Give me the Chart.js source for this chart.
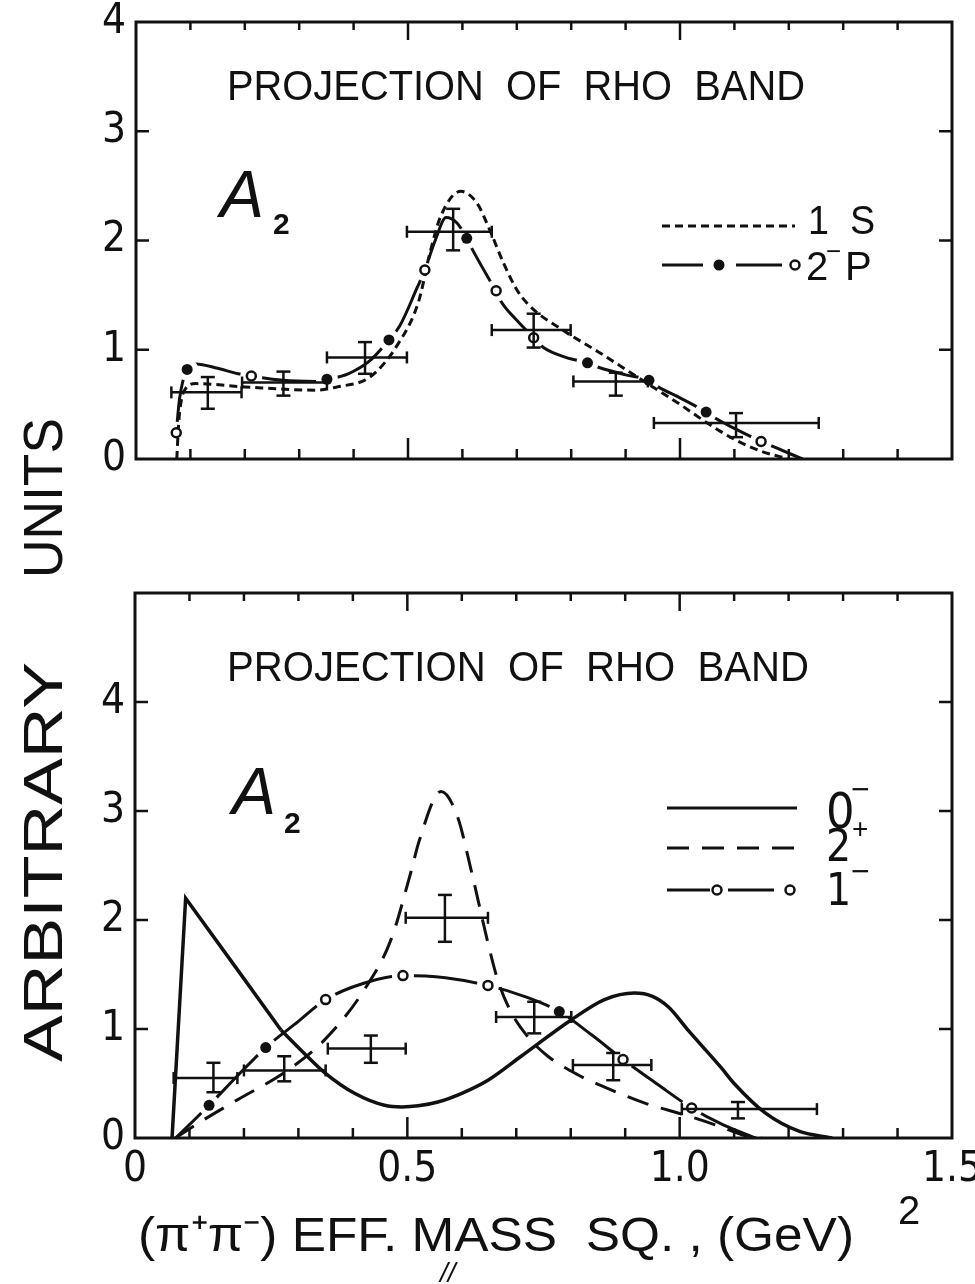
<!DOCTYPE html>
<html lang="en">
<head>
<meta charset="utf-8">
<title>A2 - projection of rho band</title>
<script src="https://cdn.jsdelivr.net/npm/chart.js@4.4.0/dist/chart.umd.min.js"></script>
<style>
  body { margin: 0; background: #fff; }
  #wrap { position: relative; width: 975px; height: 1284px; background: #fff; }
  #wrap canvas { position: absolute; left: 0; top: 0; }
</style>
</head>
<body>
<div id="wrap">
  <canvas id="topChart" width="975" height="1284"></canvas>
  <canvas id="bottomChart" width="975" height="1284"></canvas>
</div>

<script>
    // ---------- top panel: 1 S and 2-P fits ----------
    const top1S = [[0.075, 0.0], [0.077, 0.2], [0.08, 0.42], [0.092, 0.65], [0.11, 0.69], [0.2, 0.66],
        [0.33, 0.63], [0.37, 0.66], [0.43, 0.75], [0.48, 1.04], [0.52, 1.45], [0.54, 1.88], [0.56, 2.22],
        [0.597, 2.45], [0.627, 2.34], [0.65, 2.1], [0.675, 1.8], [0.70, 1.55], [0.72, 1.42], [0.745, 1.31],
        [0.775, 1.21], [0.80, 1.13], [0.85, 0.98], [0.90, 0.82], [0.95, 0.66], [1.0, 0.5], [1.05, 0.33],
        [1.10, 0.18], [1.15, 0.07], [1.2, 0.0]];

    const top2P = [[0.074, 0.24], [0.08, 0.55], [0.094, 0.82], [0.11, 0.87], [0.15, 0.83], [0.188, 0.78],
        [0.212, 0.76], [0.27, 0.72], [0.33, 0.71], [0.351, 0.73], [0.39, 0.78], [0.43, 0.9], [0.465, 1.09],
        [0.485, 1.22], [0.517, 1.57], [0.531, 1.73], [0.55, 2.0], [0.57, 2.21], [0.59, 2.16], [0.608, 2.02],
        [0.617, 1.93], [0.651, 1.63], [0.662, 1.54], [0.67, 1.45], [0.70, 1.27], [0.731, 1.11], [0.749, 1.02],
        [0.79, 0.93], [0.83, 0.88], [0.85, 0.84], [0.90, 0.77], [0.943, 0.72], [0.96, 0.66], [1.0, 0.56],
        [1.048, 0.43], [1.066, 0.37], [1.1, 0.28], [1.149, 0.16], [1.173, 0.11], [1.225, 0.0]];
    const top2PDots = [[0.094, 0.82], [0.351, 0.73], [0.465, 1.09], [0.608, 2.02], [0.83, 0.88], [0.943, 0.72], [1.048, 0.43]];
    const top2PRings = [[0.074, 0.24], [0.212, 0.76], [0.531, 1.73], [0.662, 1.54], [0.731, 1.11], [1.149, 0.16]];

    // measured points (bins with errors)
    const topErrX = [0.132, 0.271, 0.421, 0.583, 0.731, 0.882, 1.103];
    const topErrXLo = [0.065, 0.195, 0.351, 0.498, 0.654, 0.804, 0.952];
    const topErrXHi = [0.194, 0.351, 0.498, 0.654, 0.799, 0.941, 1.255];
    const topErrY = [0.61, 0.70, 0.93, 2.08, 1.18, 0.71, 0.33];
    const topErrYLo = [0.46, 0.58, 0.78, 1.91, 1.02, 0.58, 0.20];
    const topErrYHi = [0.75, 0.80, 1.07, 2.29, 1.33, 0.79, 0.42];

    // ---------- bottom panel: 0-, 2+, 1- ----------
    const bot0Spike = [[0.068, 0.0], [0.093, 2.2], [0.18, 1.6], [0.268, 0.99]];
    const bot0Rest = [[0.268, 0.99], [0.31, 0.78], [0.348, 0.60], [0.403, 0.41], [0.458, 0.30], [0.49, 0.285],
        [0.52, 0.295], [0.556, 0.33], [0.60, 0.41], [0.648, 0.53], [0.709, 0.75], [0.80, 1.08], [0.862, 1.27],
        [0.917, 1.33], [0.95, 1.30], [0.98, 1.20], [1.017, 0.98], [1.077, 0.64], [1.10, 0.50], [1.157, 0.23],
        [1.22, 0.06], [1.28, 0.0]];
    const bot2Plus = [[0.074, 0.0], [0.127, 0.17], [0.188, 0.35], [0.28, 0.62], [0.348, 0.90], [0.421, 1.36],
        [0.47, 1.82], [0.506, 2.43], [0.522, 2.73], [0.562, 3.18], [0.592, 2.95], [0.617, 2.46], [0.648, 1.79],
        [0.666, 1.45], [0.691, 1.15], [0.721, 0.93], [0.758, 0.75], [0.813, 0.58], [0.875, 0.44], [0.936, 0.32],
        [1.017, 0.20], [1.077, 0.10], [1.114, 0.03], [1.151, 0.0]];
    const bot1Minus = [[0.075, 0.0], [0.136, 0.30], [0.19, 0.58], [0.24, 0.83], [0.30, 1.07], [0.35, 1.27],
        [0.42, 1.42], [0.492, 1.49], [0.57, 1.47], [0.648, 1.40], [0.72, 1.29], [0.779, 1.16], [0.84, 0.94],
        [0.896, 0.72], [0.96, 0.49], [1.022, 0.275], [1.08, 0.12], [1.14, 0.0]];
    const bot1MinusDots = [[0.136, 0.30], [0.24, 0.83], [0.779, 1.16]];
    const bot1MinusRings = [[0.35, 1.27], [0.492, 1.49], [0.648, 1.40], [0.896, 0.72], [1.022, 0.275]];

    const botErrX = [0.144, 0.274, 0.433, 0.569, 0.733, 0.878, 1.107];
    const botErrXLo = [0.071, 0.200, 0.354, 0.497, 0.663, 0.804, 1.004];
    const botErrXHi = [0.188, 0.350, 0.497, 0.648, 0.801, 0.948, 1.252];
    const botErrY = [0.55, 0.62, 0.82, 2.02, 1.11, 0.67, 0.265];
    const botErrYLo = [0.42, 0.52, 0.69, 1.80, 0.96, 0.53, 0.18];
    const botErrYHi = [0.69, 0.75, 0.94, 2.23, 1.25, 0.78, 0.33];

    const INK = '#111';
    const SANS = '"Liberation Sans", Arimo, Arial, sans-serif';
    const NARROW = '"Liberation Sans Narrow", "DejaVu Sans Condensed", "Liberation Sans", sans-serif';

    let toXY = arr => arr.map(p => ({x: p[0], y: p[1]}));

    let seg = (ctx, x0, y0, x1, y1) => {
        ctx.beginPath();
        ctx.moveTo(x0, y0);
        ctx.lineTo(x1, y1);
        ctx.stroke();
    };

    let marker = (ctx, x, y, filled) => {
        ctx.save();
        ctx.beginPath();
        ctx.arc(x, y, filled ? 5.5 : 4.5, 0, Math.PI * 2);
        if (filled) {
            ctx.fillStyle = INK;
            ctx.fill();
        } else {
            ctx.fillStyle = '#fff';
            ctx.fill();
            ctx.lineWidth = 2.5;
            ctx.strokeStyle = INK;
            ctx.stroke();
        }
        ctx.restore();
    };

    // text squeezed / stretched to the width it has on the paper
    let fitText = (ctx, text, x, y, width, font) => {
        ctx.save();
        ctx.font = font;
        ctx.fillStyle = INK;
        ctx.textAlign = 'left';
        ctx.textBaseline = 'alphabetic';
        const w = ctx.measureText(text).width;
        ctx.translate(x, y);
        ctx.scale(width / w, 1);
        ctx.fillText(text, 0, 0);
        ctx.restore();
    };

    let plainText = (ctx, text, x, y, font) => {
        ctx.save();
        ctx.font = font;
        ctx.fillStyle = INK;
        ctx.textAlign = 'left';
        ctx.textBaseline = 'alphabetic';
        ctx.fillText(text, x, y);
        ctx.restore();
    };

    let drawFrame = (chart, sideTicks) => {
        const {ctx, chartArea: a, scales: {x, y}} = chart;
        ctx.save();
        ctx.strokeStyle = INK;
        ctx.lineWidth = 3;
        ctx.strokeRect(a.left, a.top, a.right - a.left, a.bottom - a.top);
        ctx.lineWidth = 2.5;
        for (let i = 1; i < 15; i++) {
            const xp = x.getPixelForValue(i / 10);
            const major = i % 5 === 0;
            seg(ctx, xp, a.bottom, xp, a.bottom - (major ? 21 : 10));
            seg(ctx, xp, a.top, xp, a.top + (major ? 18 : 8));
        }
        sideTicks.forEach(v => {
            const yp = y.getPixelForValue(v);
            seg(ctx, a.left, yp, a.left + 13, yp);
            seg(ctx, a.right, yp, a.right - 13, yp);
        });
        ctx.restore();
    };

    let drawErrorBars = (chart, xc, xlo, xhi, yc, ylo, yhi) => {
        const {ctx, scales: {x, y}} = chart;
        ctx.save();
        ctx.strokeStyle = INK;
        ctx.lineWidth = 2.5;
        xc.forEach((v, i) => {
            const X = x.getPixelForValue(v);
            const X0 = x.getPixelForValue(xlo[i]);
            const X1 = x.getPixelForValue(xhi[i]);
            const Y = y.getPixelForValue(yc[i]);
            const Y0 = y.getPixelForValue(ylo[i]);
            const Y1 = y.getPixelForValue(yhi[i]);
            seg(ctx, X0, Y, X1, Y);
            seg(ctx, X0, Y - 6, X0, Y + 6);
            seg(ctx, X1, Y - 6, X1, Y + 6);
            seg(ctx, X, Y0, X, Y1);
            seg(ctx, X - 7, Y0, X + 7, Y0);
            seg(ctx, X - 7, Y1, X + 7, Y1);
        });
        ctx.restore();
    };

    let scaleOptions = (ymax, showX, leftWidth, xHeight) => ({
        x: {
            type: 'linear', min: 0, max: 1.5,
            grid: {display: false, drawTicks: false},
            border: {display: false},
            ticks: {
                display: showX, stepSize: 0.5, autoSkip: false, maxRotation: 0, padding: 11, color: INK,
                font: {family: NARROW, size: 42, lineHeight: 1},
                callback: v => v === 0 ? '0' : v.toFixed(1)
            },
            afterFit: s => {
                s.height = xHeight;
                // let the end labels run past the frame, as on the paper
                s.paddingLeft = 0;
                s.paddingRight = 0;
            }
        },
        y: {
            type: 'linear', min: 0, max: ymax,
            grid: {display: false, drawTicks: false},
            border: {display: false},
            ticks: {
                stepSize: 1, padding: 10, color: INK,
                font: {family: NARROW, size: 42, lineHeight: 1},
                callback: v => v <= 4 ? String(v) : null
            },
            afterFit: s => {
                s.width = leftWidth;
                s.paddingTop = 0;
                s.paddingBottom = 0;
            }
        }
    });

    let curve = (data, opts) => Object.assign({
        data: toXY(data), showLine: true, pointRadius: 0, borderColor: INK, borderWidth: 3,
        cubicInterpolationMode: 'monotone', fill: false
    }, opts);

    let halo = (data, order) => ({
        data: toXY(data), showLine: false, pointRadius: 11, pointBackgroundColor: '#fff',
        pointBorderWidth: 0, order: order
    });

    let dots = (data, order) => ({
        data: toXY(data), showLine: false, pointRadius: 5.5, pointBackgroundColor: INK,
        pointBorderWidth: 0, order: order
    });

    let rings = (data, order) => ({
        data: toXY(data), showLine: false, pointRadius: 4.5, pointBackgroundColor: '#fff',
        pointBorderColor: INK, pointBorderWidth: 2.5, order: order
    });

    let baseOptions = (padTop, scales) => ({
        responsive: false,
        animation: false,
        devicePixelRatio: 1,
        layout: {padding: {left: 0, top: padTop, right: 23, bottom: 0}},
        plugins: {legend: {display: false}, tooltip: {enabled: false}},
        scales: scales
    });

    const topPaper = {
        id: 'topPaper',
        afterDatasetsDraw(chart) {
            drawErrorBars(chart, topErrX, topErrXLo, topErrXHi, topErrY, topErrYLo, topErrYHi);
        },
        afterDraw(chart) {
            const ctx = chart.ctx;
            drawFrame(chart, [1, 2, 3]);
            fitText(ctx, 'PROJECTION  OF  RHO  BAND', 227, 100, 578, '42px ' + SANS);
            plainText(ctx, 'A', 220, 217, 'italic 66px ' + SANS);
            plainText(ctx, '2', 273, 234, 'bold 30px ' + SANS);

            // legend
            ctx.save();
            ctx.strokeStyle = INK;
            ctx.lineWidth = 3;
            ctx.setLineDash([8, 5]);
            seg(ctx, 662, 226, 795, 226);
            ctx.setLineDash([]);
            seg(ctx, 662, 265, 703, 265);
            seg(ctx, 736, 265, 782, 265);
            ctx.restore();
            marker(ctx, 719, 265, true);
            marker(ctx, 795, 265, false);
            fitText(ctx, '1  S', 808, 234, 67, '40px ' + SANS);
            plainText(ctx, '2', 806, 280, '40px ' + SANS);
            plainText(ctx, '\u2212', 826, 260, '26px ' + SANS);
            plainText(ctx, 'P', 845, 280, '40px ' + SANS);

            // vertical axis title, upper word
            ctx.save();
            ctx.translate(62, 578);
            ctx.rotate(-Math.PI / 2);
            fitText(ctx, 'UNITS', 0, 0, 160, '56px ' + SANS);
            ctx.restore();
        }
    };

    const bottomPaper = {
        id: 'bottomPaper',
        afterDatasetsDraw(chart) {
            drawErrorBars(chart, botErrX, botErrXLo, botErrXHi, botErrY, botErrYLo, botErrYHi);
        },
        afterDraw(chart) {
            const ctx = chart.ctx;
            drawFrame(chart, [1, 2, 3, 4]);
            fitText(ctx, 'PROJECTION  OF  RHO  BAND', 227, 681, 582, '42px ' + SANS);
            plainText(ctx, 'A', 232, 814, 'italic 66px ' + SANS);
            plainText(ctx, '2', 284, 833, 'bold 30px ' + SANS);

            // legend
            ctx.save();
            ctx.strokeStyle = INK;
            ctx.lineWidth = 3;
            seg(ctx, 667, 808, 797, 808);
            ctx.setLineDash([22, 13]);
            seg(ctx, 667, 848, 802, 848);
            ctx.setLineDash([]);
            seg(ctx, 667, 890, 710, 890);
            seg(ctx, 728, 890, 774, 890);
            ctx.restore();
            marker(ctx, 717, 890, false);
            marker(ctx, 790, 890, false);
            plainText(ctx, '0', 826, 828, '50px ' + NARROW);
            plainText(ctx, '\u2212', 851, 800, '32px ' + SANS);
            plainText(ctx, '2', 826, 861, '44px ' + NARROW);
            plainText(ctx, '+', 852, 838, '28px ' + SANS);
            plainText(ctx, '1', 826, 905, '44px ' + NARROW);
            plainText(ctx, '\u2212', 851, 882, '32px ' + SANS);

            // vertical axis title, lower word
            ctx.save();
            ctx.translate(62, 1062);
            ctx.rotate(-Math.PI / 2);
            fitText(ctx, 'ARBITRARY', 0, 0, 400, '56px ' + SANS);
            ctx.restore();

            // horizontal axis title
            fitText(ctx, '(\u03c0\u207a\u03c0\u207b) EFF. MASS  SQ. , (GeV)', 138, 1251, 716, '48px ' + SANS);
            plainText(ctx, '2', 898, 1224, '40px ' + SANS);
            plainText(ctx, '//', 440, 1282, 'italic 28px ' + SANS);
        }
    };

    new Chart(document.getElementById('topChart'), {
        type: 'scatter',
        data: {
            datasets: [
                curve(top2P, {order: 6}),
                halo(top2PDots.concat(top2PRings), 5),
                curve(top1S, {order: 4, borderDash: [8, 5]}),
                dots(top2PDots, 2),
                rings(top2PRings, 2)
            ]
        },
        options: baseOptions(22, scaleOptions(4, false, 136, 825)),
        plugins: [topPaper]
    });

    new Chart(document.getElementById('bottomChart'), {
        type: 'scatter',
        data: {
            datasets: [
                curve(bot1Minus, {order: 6}),
                halo(bot1MinusDots.concat(bot1MinusRings), 5),
                curve(bot0Spike, {order: 4, tension: 0, cubicInterpolationMode: 'default', borderWidth: 3.5}),
                curve(bot0Rest, {order: 4, borderWidth: 3.5}),
                curve(bot2Plus, {order: 4, borderDash: [22, 13]}),
                dots(bot1MinusDots, 2),
                rings(bot1MinusRings, 2)
            ]
        },
        options: baseOptions(593, scaleOptions(5, true, 135, 146)),
        plugins: [bottomPaper]
    });
</script>
</body>
</html>
